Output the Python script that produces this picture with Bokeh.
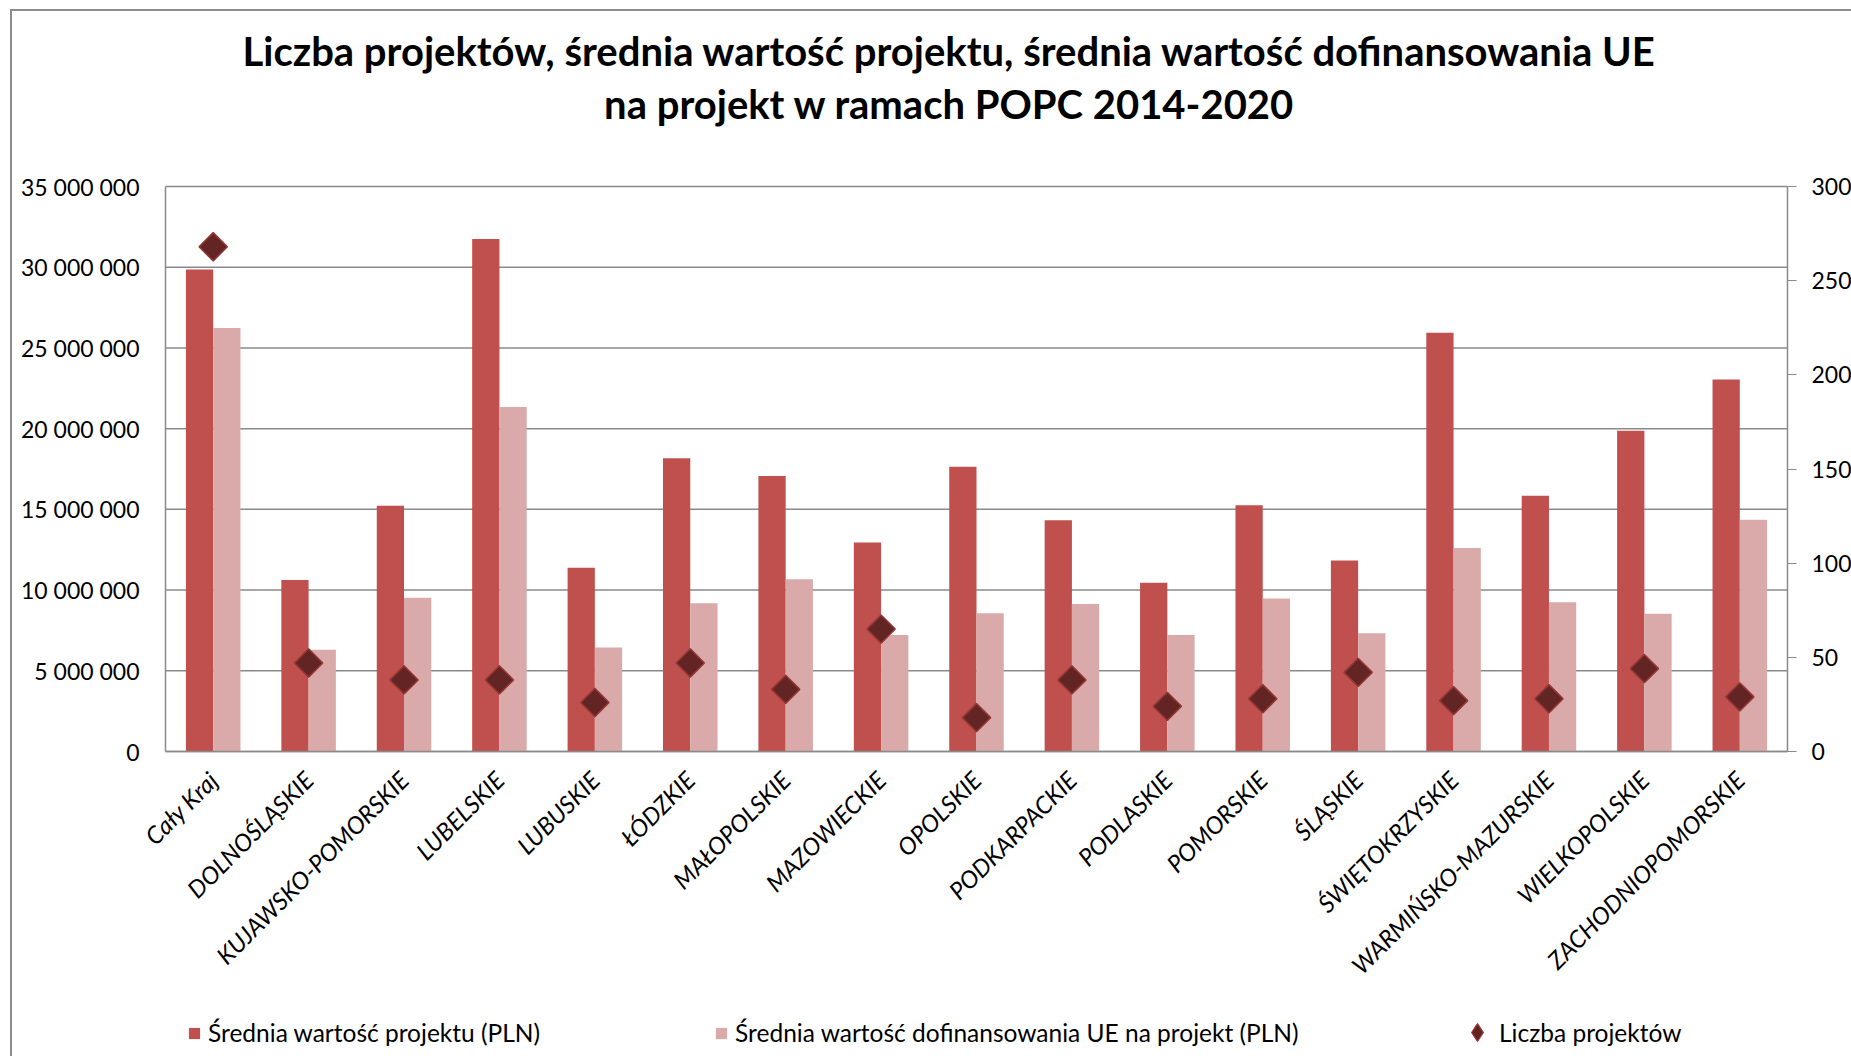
import math
from bokeh.plotting import figure
from bokeh.models import (Range1d, LinearAxis, FixedTicker, Label,
                          Legend, LegendItem, ColumnDataSource)
from bokeh.transform import dodge
from bokeh.embed import file_html
from bokeh.resources import INLINE

categories = ["Cały Kraj", "DOLNOŚLĄSKIE", "KUJAWSKO-POMORSKIE", "LUBELSKIE", "LUBUSKIE",
              "ŁÓDZKIE", "MAŁOPOLSKIE", "MAZOWIECKIE", "OPOLSKIE", "PODKARPACKIE",
              "PODLASKIE", "POMORSKIE", "ŚLĄSKIE", "ŚWIĘTOKRZYSKIE", "WARMIŃSKO-MAZURSKIE",
              "WIELKOPOLSKIE", "ZACHODNIOPOMORSKIE"]
avg_project_value = [29860000, 10620000, 15220000, 31750000, 11380000, 18160000, 17070000,
                     12950000, 17640000, 14320000, 10460000, 15250000, 11830000, 25940000,
                     15840000, 19870000, 23050000]
avg_eu_funding = [26230000, 6310000, 9530000, 21340000, 6450000, 9180000, 10670000,
                  7210000, 8560000, 9130000, 7210000, 9480000, 7330000, 12610000,
                  9250000, 8540000, 14350000]
project_count = [268, 47, 38, 38, 26, 47, 33, 65, 18, 38, 24, 28, 42, 27, 28, 44, 29]

left_ticks = [0, 5000000, 10000000, 15000000, 20000000, 25000000, 30000000, 35000000]
left_tick_labels = ["0", "5 000 000", "10 000 000", "15 000 000", "20 000 000",
                    "25 000 000", "30 000 000", "35 000 000"]
right_ticks = [0, 50, 100, 150, 200, 250, 300]
left_max = 35000000
right_max = 300

title_lines = ["Liczba projektów, średnia wartość projektu, średnia wartość dofinansowania UE",
               "na projekt w ramach POPC 2014-2020"]
legend_labels = ["Średnia wartość projektu (PLN)",
                 "Średnia wartość dofinansowania UE na projekt (PLN)",
                 "Liczba projektów"]

FONT = "Lato"
GRID = "#8a8a8a"
DARK, LIGHT = "#C0504D", "#DAAAAA"
DIAM_FILL, DIAM_LINE = "#632523", "#953735"

# ---- layout in pixels (canvas = frame) ----
W, H = 1851, 1056
AREA_LEFT, AREA_RIGHT = 165, 1787      # plot area left/right edge
AREA_TOP, AREA_BOTTOM = 186, 751       # plot area top/bottom edge
n = len(categories)
idx = list(range(n))
cat_px = (AREA_RIGHT - AREA_LEFT) / n
x_lo, x_hi = -0.5, n - 0.5
x_start = x_lo - AREA_LEFT / cat_px
x_end = x_hi + (W - AREA_RIGHT) / cat_px
area_h = AREA_BOTTOM - AREA_TOP

def yext(vmax):
    return (-(H - AREA_BOTTOM) / area_h * vmax, vmax + AREA_TOP / area_h * vmax)

src = ColumnDataSource(dict(x=idx, cat=categories, avg=avg_project_value,
                            eu=avg_eu_funding, cnt=project_count))
grid_src = ColumnDataSource(dict(t=left_ticks))

p = figure(x_range=Range1d(x_start, x_end), y_range=Range1d(*yext(left_max)),
           width=W, height=H,
           min_border_left=0, min_border_right=0, min_border_top=0, min_border_bottom=0,
           output_backend="svg", toolbar_location=None)
p.extra_y_ranges = {"count": Range1d(*yext(right_max))}

# horizontal gridlines over the plot area only
p.segment(x0=x_lo, x1=x_hi, y0="t", y1="t", source=grid_src,
          line_color=GRID, line_width=1.5)

bw = 1.0 / 3.5
r1 = p.vbar(x=dodge("x", -bw / 2), top="avg", width=bw, source=src,
            fill_color=DARK, line_color=None)
r2 = p.vbar(x=dodge("x", bw / 2), top="eu", width=bw, source=src,
            fill_color=LIGHT, line_color=None)
r3 = p.scatter(x="x", y="cnt", source=src, y_range_name="count", marker="square",
               angle=math.pi / 4, size=20, fill_color=DIAM_FILL, line_color=DIAM_LINE,
               line_width=1.5)
# diamond key for the legend (zero-size marks; only its legend swatch is visible)
r3_key = p.scatter(x="x", y="cnt", source=src, y_range_name="count", marker="diamond",
                   size=0, fill_color=DIAM_FILL, line_color=DIAM_LINE, line_width=1.2)

# left axis
ly = p.left[0]
ly.fixed_location = x_lo
ly.ticker = FixedTicker(ticks=left_ticks)
ly.bounds = (0, left_max)
ly.major_label_overrides = {t: s for t, s in zip(left_ticks, left_tick_labels)}
ly.major_tick_out = 0
ly.major_tick_in = 0
ly.minor_tick_out = 0
ly.minor_tick_in = 0
ly.axis_line_color = GRID
ly.axis_line_width = 1.5
ly.major_label_standoff = 26
ly.major_label_text_font = FONT
ly.major_label_text_font_size = "23px"
ly.major_label_text_color = "#000000"

# right axis
ry = LinearAxis(y_range_name="count", ticker=FixedTicker(ticks=right_ticks),
                bounds=(0, right_max), fixed_location=x_hi)
ry.major_tick_out = 9
ry.major_tick_in = 0
ry.minor_tick_out = 0
ry.minor_tick_in = 0
ry.axis_line_color = GRID
ry.axis_line_width = 1.5
ry.major_tick_line_color = GRID
ry.major_label_standoff = 15
ry.major_label_text_font = FONT
ry.major_label_text_font_size = "23px"
ry.major_label_text_color = "#000000"
p.add_layout(ry, "right")

# category axis
xa = p.below[0]
xa.fixed_location = 0
xa.bounds = (x_lo, x_hi)
xa.ticker = FixedTicker(ticks=idx)
xa.major_label_overrides = {i: c for i, c in zip(idx, categories)}
xa.major_label_orientation = math.pi / 4
xa.major_label_text_font = FONT
xa.major_label_text_font_style = "italic"
xa.major_label_text_font_size = "24px"
xa.major_label_text_color = "#000000"
xa.major_label_standoff = 24
xa.major_tick_out = 0
xa.major_tick_in = 0
xa.minor_tick_out = 0
xa.minor_tick_in = 0
xa.axis_line_color = GRID
xa.axis_line_width = 1.5

p.xgrid.visible = False
p.ygrid.visible = False
p.outline_line_color = None
p.background_fill_alpha = 0
p.border_fill_alpha = 0
p.styles = {"background": "linear-gradient(#8c8c8c, #8c8c8c) 10px 9px / 2px 100% no-repeat, "
                          "linear-gradient(#8c8c8c, #8c8c8c) 10px 9px / 100% 2px no-repeat, white"}

# title (two centred lines)
for txt, base in zip(title_lines, [50, 103]):
    p.add_layout(Label(x=949, y=H - base, x_units="screen", y_units="screen",
                       text=txt, text_font=FONT, text_font_style="bold",
                       text_font_size="40px", text_align="center",
                       text_baseline="alphabetic", text_color="#000000"))

common = dict(orientation="horizontal", padding=0, margin=0, border_line_alpha=0,
              background_fill_alpha=0, label_text_font=FONT, label_text_font_size="24.5px",
              label_text_color="#000000")
legend_bars = Legend(items=[LegendItem(label=legend_labels[0], renderers=[r1]),
                            LegendItem(label=legend_labels[1], renderers=[r2])],
                     location=(187, H - 1047), spacing=174, glyph_width=14, glyph_height=14,
                     label_standoff=7, label_height=26, **common)
legend_count = Legend(items=[LegendItem(label=legend_labels[2], renderers=[r3_key])],
                      location=(1455, H - 1054), glyph_width=44, glyph_height=44,
                      label_standoff=0, label_height=26, **common)
p.add_layout(legend_bars, "center")
p.add_layout(legend_count, "center")

open("out.html", "w").write(file_html(p, INLINE))
